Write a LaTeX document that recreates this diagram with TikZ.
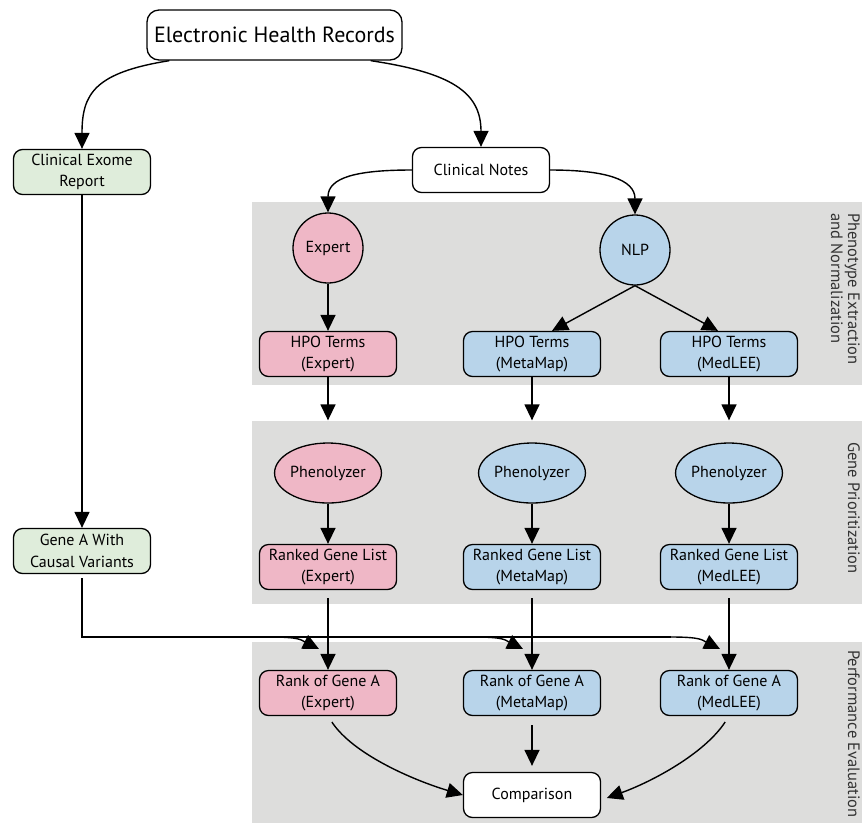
\documentclass[tikz,border=0pt]{standalone}
\usepackage{fontspec}
\setmainfont{PT Sans}
\usepackage{tikz}
\usetikzlibrary{shapes.geometric, arrows.meta, positioning}
\definecolor{expertpink}{HTML}{EFB7C6}
\definecolor{nlpblue}{HTML}{B8D4EA}
\definecolor{reportgreen}{HTML}{DFEDDB}
\definecolor{panelgray}{HTML}{DDDDDC}
\tikzstyle{box} = [rectangle, rounded corners=9pt, minimum width=137pt, minimum height=45pt, inner sep=1pt, align=center, draw=black, line width=1.3pt, font=\fontsize{16}{21.5}\selectfont]
\tikzstyle{arrow} = [line width=1.4pt, -{Triangle[width=15pt,length=16pt]}]

\begin{document}
\begin{tikzpicture}[
    x=1pt, y=-1pt,
    circ/.style={circle, draw=black, line width=1.3pt, minimum size=70pt, inner sep=0pt, font=\fontsize{16}{21.5}\selectfont},
    oval/.style={ellipse, draw=black, line width=1.3pt, minimum width=100pt, minimum height=60pt, inner sep=0pt, font=\fontsize{16}{21.5}\selectfont},
    panel/.style={fill=panelgray, draw=none},
    stage/.style={rotate=-90, anchor=north west, align=left, inner sep=1pt, text=black!80, font=\fontsize{16.5}{17}\selectfont}
]

\useasboundingbox (0,0) rectangle (862,823);

% Panels
\fill[panel] (252,202) rectangle (862,385);
\fill[panel] (252,421) rectangle (862,604);
\fill[panel] (252,642) rectangle (862,823);
\node (stage1) [stage] at (861,212) {Phenotype Extraction\\and Normalization};
\node (stage2) [stage] at (861,441) {Gene Prioritization};
\node (stage3) [stage] at (861,649) {Performance Evaluation};

% Nodes
\node (ehr) [box, rounded corners=12pt, minimum width=255pt, minimum height=50pt, fill=white, font=\fontsize{22}{26}\selectfont] at (274.5,35) {Electronic Health Records};
\node (exome) [box, fill=reportgreen] at (82,172) {Clinical Exome\\Report};
\node (notes) [box, fill=white] at (481,170) {Clinical Notes};
\node (genea) [box, fill=reportgreen] at (82,551) {Gene A With\\Causal Variants};

\node (expert) [circ, fill=expertpink] at (328,248) {Expert};
\node (nlp) [circ, fill=nlpblue] at (635,250) {NLP};

\node (hpoexp) [box, fill=expertpink] at (328,354) {HPO Terms\\(Expert)};
\node (hpometa) [box, fill=nlpblue] at (532,354) {HPO Terms\\(MetaMap)};
\node (hpomed) [box, fill=nlpblue] at (729,354) {HPO Terms\\(MedLEE)};

\node (phenexp) [oval, fill=expertpink] at (328,473) {Phenolyzer};
\node (phenmeta) [oval, fill=nlpblue] at (532,473) {Phenolyzer};
\node (phenmed) [oval, fill=nlpblue] at (729,473) {Phenolyzer};

\node (rankedexp) [box, fill=expertpink] at (328,567) {Ranked Gene List\\(Expert)};
\node (rankedmeta) [box, fill=nlpblue] at (532,567) {Ranked Gene List\\(MetaMap)};
\node (rankedmed) [box, fill=nlpblue] at (729,567) {Ranked Gene List\\(MedLEE)};

\node (rankexp) [box, fill=expertpink] at (328,693) {Rank of Gene A\\(Expert)};
\node (rankmeta) [box, fill=nlpblue] at (532,693) {Rank of Gene A\\(MetaMap)};
\node (rankmed) [box, fill=nlpblue] at (729,693) {Rank of Gene A\\(MedLEE)};

\node (comparison) [box, fill=white] at (532,795) {Comparison};

\coordinate (split1) at (270,637);
\coordinate (split2) at (474,637);
\coordinate (split3) at (671,637);
\coordinate (tip1) at (319,649);
\coordinate (tip2) at (523,649);
\coordinate (tip3) at (720,649);

% Arrows
\draw [arrow] ([xshift=23pt]ehr.south west) .. controls +(-75,12) and +(0,-55) .. (exome.north);
\draw [arrow] ([xshift=-32pt]ehr.south east) .. controls +(80,12) and +(0,-55) .. (notes.north);
\draw [arrow] (notes.west) .. controls +(-55,0) and +(0,-35) .. (expert.north);
\draw [arrow] (notes.east) .. controls +(55,0) and +(0,-35) .. (nlp.north);

\draw [arrow] (exome) -- (genea);
\draw [arrow] (expert) -- (hpoexp);
\draw [arrow] (nlp.south) -- ([xshift=20pt]hpometa.north);
\draw [arrow] (nlp.south) -- ([xshift=-11pt]hpomed.north);

\draw [arrow, shorten >=22pt] (hpoexp) -- (phenexp);
\draw [arrow, shorten >=22pt] (hpometa) -- (phenmeta);
\draw [arrow, shorten >=22pt] (hpomed) -- (phenmed);

\draw [arrow] (phenexp) -- (rankedexp);
\draw [arrow] (phenmeta) -- (rankedmeta);
\draw [arrow] (phenmed) -- (rankedmed);

\draw [arrow, shorten <=8pt] (rankedexp) -- (rankexp);
\draw [arrow, shorten <=8pt] (rankedmeta) -- (rankmeta);
\draw [arrow, shorten <=8pt] (rankedmed) -- (rankmed);

\draw [line width=1.4pt] ([yshift=-4pt]genea.south) |- (split3);
\draw [arrow] (split1) .. controls +(30,0) and +(-18,-9) .. (tip1);
\draw [arrow] (split2) .. controls +(30,0) and +(-18,-9) .. (tip2);
\draw [arrow] (split3) .. controls +(30,0) and +(-18,-9) .. (tip3);

\draw [arrow, shorten <=7pt] (rankexp.south) .. controls +(25,38) and +(-50,-15) .. (comparison.west);
\draw [arrow, shorten <=9pt, shorten >=6pt] (rankmeta) -- (comparison);
\draw [arrow, shorten <=7pt, shorten >=6pt] (rankmed.south) .. controls +(-25,38) and +(50,-18) .. ([yshift=-5pt]comparison.east);

\end{tikzpicture}
\end{document}
